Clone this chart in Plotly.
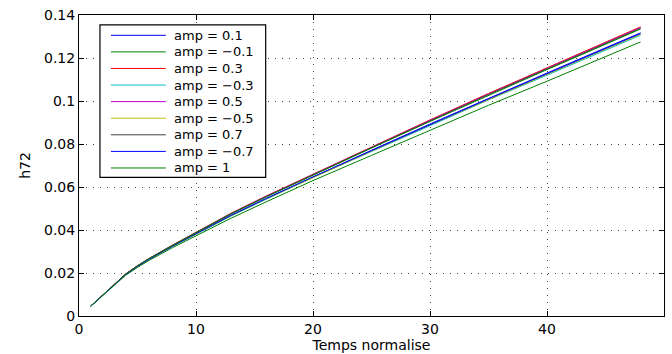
import plotly.graph_objects as go

# sampled normalised time
t = [1, 2, 3, 4, 5, 6, 8, 10, 13, 16, 20, 25, 30, 35, 40, 44, 48]

# h72 for each amplitude
h_amp_p01 = [0.0046, 0.0094, 0.0144, 0.0194, 0.0231, 0.0264, 0.0325, 0.0383, 0.0469, 0.0547, 0.0648, 0.0771, 0.0893, 0.1013, 0.1130, 0.1224, 0.1317]
h_amp_m01 = [0.0045, 0.0093, 0.0142, 0.0190, 0.0226, 0.0259, 0.0318, 0.0373, 0.0455, 0.0531, 0.0630, 0.0747, 0.0865, 0.0980, 0.1092, 0.1185, 0.1275]
h_amp_p03 = [0.0046, 0.0095, 0.0145, 0.0196, 0.0234, 0.0268, 0.0330, 0.0390, 0.0478, 0.0558, 0.0660, 0.0787, 0.0912, 0.1035, 0.1155, 0.1250, 0.1345]
h_amp_m03 = [0.0045, 0.0094, 0.0143, 0.0193, 0.0230, 0.0263, 0.0323, 0.0381, 0.0465, 0.0543, 0.0644, 0.0765, 0.0886, 0.1005, 0.1120, 0.1214, 0.1306]
h_amp_p05 = [0.0046, 0.0095, 0.0145, 0.0196, 0.0234, 0.0268, 0.0329, 0.0389, 0.0477, 0.0557, 0.0658, 0.0785, 0.0910, 0.1032, 0.1152, 0.1247, 0.1342]
h_amp_m05 = [0.0046, 0.0094, 0.0144, 0.0193, 0.0230, 0.0264, 0.0324, 0.0382, 0.0467, 0.0545, 0.0645, 0.0767, 0.0889, 0.1008, 0.1124, 0.1218, 0.1310]
h_amp_p07 = [0.0046, 0.0095, 0.0145, 0.0195, 0.0233, 0.0267, 0.0329, 0.0388, 0.0476, 0.0555, 0.0657, 0.0783, 0.0907, 0.1030, 0.1149, 0.1244, 0.1338]
h_amp_m07 = [0.0046, 0.0094, 0.0144, 0.0193, 0.0230, 0.0264, 0.0325, 0.0382, 0.0468, 0.0546, 0.0647, 0.0769, 0.0891, 0.1010, 0.1127, 0.1221, 0.1314]
h_amp_p1 = [0.0046, 0.0095, 0.0145, 0.0195, 0.0233, 0.0267, 0.0328, 0.0387, 0.0475, 0.0554, 0.0656, 0.0781, 0.0905, 0.1027, 0.1146, 0.1240, 0.1335]

labels = ["amp = 0.1", "amp = \u22120.1", "amp = 0.3", "amp = \u22120.3", "amp = 0.5",
          "amp = \u22120.5", "amp = 0.7", "amp = \u22120.7", "amp = 1"]
series = [h_amp_p01, h_amp_m01, h_amp_p03, h_amp_m03, h_amp_p05,
          h_amp_m05, h_amp_p07, h_amp_m07, h_amp_p1]
colors = ["#0000ff", "#008000", "#ff0000", "#00bfbf", "#bf00bf",
          "#bfbf00", "#404040", "#0000ff", "#008000"]

FONT = "DejaVu Sans"
W, H = 672, 354
ML, MR, MT, MB = 79, 7, 14, 36
PW, PH = W - ML - MR, H - MT - MB


def px_x(px):
    return (px - ML) / PW


def px_y(py):
    return (H - MB - py) / PH


fig = go.Figure()
for name, ys, c in zip(labels, series, colors):
    fig.add_trace(go.Scatter(x=t, y=ys, mode="lines", name=name,
                             line=dict(color=c, width=1), showlegend=False))

# legend box drawn inside the axes, upper left
shapes = [dict(type="rect", xref="paper", yref="paper",
               x0=px_x(100), x1=px_x(266), y0=px_y(178), y1=px_y(24),
               line=dict(color="black", width=1.2), fillcolor="white", layer="above")]
annotations = []
row0, row_step = 34.5, 16.75
for i, (name, c) in enumerate(zip(labels, colors)):
    yy = px_y(row0 + i * row_step)
    shapes.append(dict(type="line", xref="paper", yref="paper",
                       x0=px_x(111), x1=px_x(166), y0=yy, y1=yy,
                       line=dict(color=c, width=1), layer="above"))
    annotations.append(dict(xref="paper", yref="paper", x=px_x(172), y=yy,
                            text=name, showarrow=False, xanchor="left", yanchor="middle",
                            font=dict(family=FONT, size=13, color="black")))

axis_common = dict(
    showline=True, linecolor="black", linewidth=1, mirror="ticks",
    ticks="inside", ticklen=5, tickcolor="black",
    showgrid=True, gridcolor="#444444", gridwidth=1, griddash="1px,6px",
    zeroline=False,
    tickfont=dict(family=FONT, size=14, color="black"),
)

fig.update_layout(
    width=W, height=H,
    margin=dict(l=ML, r=MR, t=MT, b=MB),
    paper_bgcolor="white", plot_bgcolor="white",
    font=dict(family=FONT, size=14, color="black"),
    showlegend=False,
    shapes=shapes,
    annotations=annotations,
    xaxis=dict(range=[0, 50], tickvals=[0, 10, 20, 30, 40, 50],
               title=dict(text="Temps normalise", standoff=0,
                          font=dict(family=FONT, size=14)),
               **axis_common),
    yaxis=dict(range=[0, 0.14],
               tickvals=[0, 0.02, 0.04, 0.06, 0.08, 0.1, 0.12, 0.14],
               ticktext=["0", "0.02", "0.04", "0.06", "0.08", "0.1", "0.12", "0.14"],
               title=dict(text="h72", standoff=10,
                          font=dict(family=FONT, size=14)),
               **axis_common),
)

fig.write_html("out.html")
